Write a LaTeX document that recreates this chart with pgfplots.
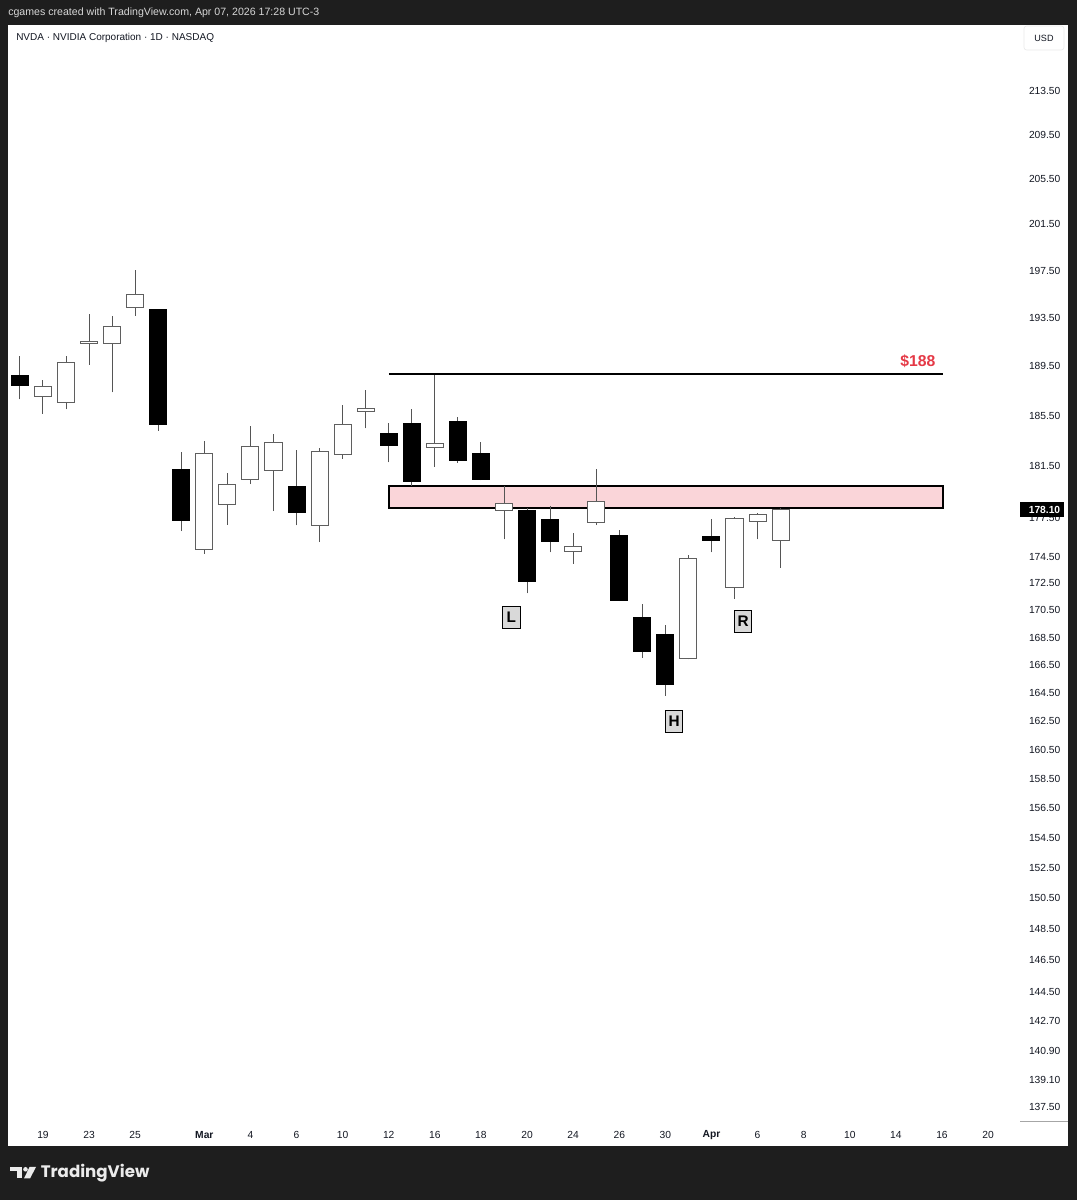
\documentclass[border=0pt]{standalone}
\usepackage{pgfplots}
\pgfplotsset{compat=1.18}
\usepackage{pgfplotstable}
\usepackage{fontspec}
\setmainfont{Liberation Sans}
\newfontfamily\logofont{Poppins}
\definecolor{bgdark}{RGB}{30,30,30}
\definecolor{wickgray}{RGB}{85,85,85}
\definecolor{edgegray}{RGB}{95,95,95}
\definecolor{zonepink}{RGB}{250,213,217}
\definecolor{tvred}{RGB}{229,57,70}
\definecolor{tvtext}{RGB}{19,23,34}
\definecolor{tagbg}{RGB}{217,217,217}
\definecolor{hdrtext}{RGB}{215,215,215}

% NVDA daily candles: index (0 = Feb 19), open, high, low, close
\pgfplotstableread{
i o h l c
-1 188.74 190.33 186.81 187.97
0 187.03 188.41 185.66 187.89
1 186.54 190.33 185.99 189.81
2 191.36 193.86 189.61 191.57
3 191.44 193.69 187.40 192.79
4 194.41 197.56 193.73 195.52
5 194.21 194.25 184.30 184.82
6 181.25 182.60 176.45 177.22
7 175.04 183.44 174.71 182.50
8 178.52 180.94 176.96 180.06
9 180.48 184.66 180.09 183.04
10 181.19 184.06 177.98 183.33
11 179.88 182.75 176.88 177.86
12 176.86 182.91 175.60 182.68
13 182.42 186.40 182.05 184.77
14 185.85 187.60 184.46 186.05
15 184.07 184.95 181.79 183.13
16 184.90 186.05 179.96 180.27
17 182.96 188.85 181.45 183.25
18 185.03 185.37 181.74 181.92
19 182.50 183.38 180.37 180.42
20 178.04 179.95 175.83 178.60
21 178.06 178.25 171.74 172.63
22 177.32 178.42 174.84 175.65
23 174.86 176.30 173.98 175.25
24 177.12 181.25 176.91 178.71
25 176.11 176.55 171.17 171.19
26 169.96 170.94 167.02 167.50
27 168.74 169.44 164.31 165.14
28 166.95 174.65 166.90 174.40
29 176.04 177.40 174.84 175.75
30 172.15 177.52 171.37 177.45
31 177.17 177.88 175.81 177.71
32 175.75 178.25 173.68 178.10
}\ohlc
\pgfplotstablegetrowsof{\ohlc}
\pgfmathtruncatemacro{\lastrow}{\pgfplotsretval-1}

\begin{document}
\begin{tikzpicture}
\begin{scope}[x=0.75pt,y=-0.75pt,yshift=900pt]
\useasboundingbox (0,0) rectangle (1077,1200);
\fill[bgdark] (0,0) rectangle (1077,1200);
\fill[white] (8,25) rectangle (1068,1146);
% header
\node[anchor=west, inner sep=0pt, text=hdrtext, font=\fontsize{7.95pt}{9pt}\selectfont] at (8,13) {cgames created with TradingView.com, Apr 07, 2026 17:28 UTC-3};
\node[anchor=west, inner sep=0pt, text=tvtext, font=\fontsize{7.5pt}{9pt}\selectfont] at (16,38) {NVDA · NVIDIA Corporation · 1D · NASDAQ};
\draw[rounded corners=2pt, draw=black!8, line width=0.5pt] (1024,26) rectangle (1064,50);
\node[inner sep=0pt, text=tvtext, font=\fontsize{6.8pt}{8pt}\selectfont] at (1044,38) {USD};
\end{scope}

\begin{axis}[
  at={(6pt,58.5pt)}, anchor=south west,
  width=759pt, height=823.5pt, scale only axis,
  xmin=-1.518, xmax=42.386,
  ymode=log, ymin=136.61, ymax=219.79,
  axis line style={draw=none},
  tick style={draw=none},
  major tick length=0pt,
  minor ytick={}, minor xtick={},
  clip=false,
  xtick={0,2,4,7,9,11,13,15,17,19,21,23,25,27,29,31,33,35,37,39,41},
  xticklabels={19,23,25,\textbf{Mar},4,6,10,12,16,18,20,24,26,30,\textbf{Apr},6,8,10,14,16,20},
  xticklabel style={anchor=center, inner sep=0pt, yshift=-9.75pt, text=tvtext, font=\fontsize{7.7pt}{9pt}\selectfont},
  ytick={213.5,209.5,205.5,201.5,197.5,193.5,189.5,185.5,181.5,177.5,174.5,172.5,170.5,168.5,166.5,164.5,162.5,160.5,158.5,156.5,154.5,152.5,150.5,148.5,146.5,144.5,142.7,140.9,139.1,137.5},
  yticklabels={213.50,209.50,205.50,201.50,197.50,193.50,189.50,185.50,181.50,177.50,174.50,172.50,170.50,168.50,166.50,164.50,162.50,160.50,158.50,156.50,154.50,152.50,150.50,148.50,146.50,144.50,142.70,140.90,139.10,137.50},
  yticklabel pos=right,
  yticklabel style={anchor=east, inner sep=0pt, xshift=30.5pt, text=tvtext, font=\fontsize{7.7pt}{9pt}\selectfont},
]
% resistance zone and $188 line
\addplot[draw=black, line width=1.5pt, fill=zonepink, forget plot] coordinates {(15.01,178.22) (39.03,178.22) (39.03,179.93) (15.01,179.93)} -- cycle;
\addplot[draw=black, line width=1.5pt, forget plot] coordinates {(15.01,188.87) (39.03,188.87)};
% candles
\pgfplotsinvokeforeach{0,...,\lastrow}{%
  \pgfplotstablegetelem{#1}{i}\of\ohlc \let\ci\pgfplotsretval
  \pgfplotstablegetelem{#1}{o}\of\ohlc \let\co\pgfplotsretval
  \pgfplotstablegetelem{#1}{h}\of\ohlc \let\ch\pgfplotsretval
  \pgfplotstablegetelem{#1}{l}\of\ohlc \let\cl\pgfplotsretval
  \pgfplotstablegetelem{#1}{c}\of\ohlc \let\cc\pgfplotsretval
  \pgfmathsetmacro\xl{\ci-0.37}%
  \pgfmathsetmacro\xr{\ci+0.37}%
  \pgfmathtruncatemacro\isdown{\cc<\co}%
  \ifnum\isdown=1 \def\bfill{black}\def\bdraw{black}\else\def\bfill{white}\def\bdraw{edgegray}\fi
  \edef\doplot{%
    \noexpand\addplot[draw=wickgray, line width=0.75pt, forget plot] coordinates {(\ci,\cl) (\ci,\ch)};
    \noexpand\addplot[draw=\bdraw, fill=\bfill, line width=0.75pt, forget plot] coordinates {(\xl,\co) (\xr,\co) (\xr,\cc) (\xl,\cc)} -- cycle;
  }\doplot
}
% annotations
\node[text=tvred, font=\fontsize{11.8pt}{13pt}\selectfont\bfseries, inner sep=0pt] at (axis cs:37.96,189.95) {\$188};
\tikzset{hsbox/.style={draw=black, line width=0.75pt, fill=tagbg, inner sep=0pt, minimum width=13pt, minimum height=17pt, font=\fontsize{11.5pt}{12pt}\selectfont\bfseries}}
\node[hsbox] at (axis cs:20.32,169.97) {L};
\node[hsbox] at (axis cs:27.38,162.47) {H};
\node[hsbox] at (axis cs:30.37,169.66) {R};
\end{axis}

\begin{scope}[x=0.75pt,y=-0.75pt,yshift=900pt]
% bottom line under price scale
\draw[black!35, line width=0.75pt] (1020,1122) -- (1068,1122);
% last price tag
\fill[black] (1020,502.5) rectangle (1064,517.5);
\node[inner sep=0pt, text=white, font=\fontsize{7.7pt}{9pt}\selectfont\bfseries] at (1044.5,510) {178.10};
% TradingView logo
\fill[white!92!black] (10,1167) rectangle (22,1171.5);
\fill[white!92!black] (16.5,1167) rectangle (22,1178.5);
\fill[white!92!black] (25.5,1169.3) circle (2.3);
\fill[white!92!black] (29.5,1167) -- (36,1167) -- (30,1178.5) -- (24,1178.5) -- cycle;
\node[anchor=west, inner sep=0pt, text=white!92!black] at (40.5,1173) {\resizebox{81.5pt}{!}{\logofont\bfseries TradingView}};
\end{scope}
\end{tikzpicture}
\end{document}
